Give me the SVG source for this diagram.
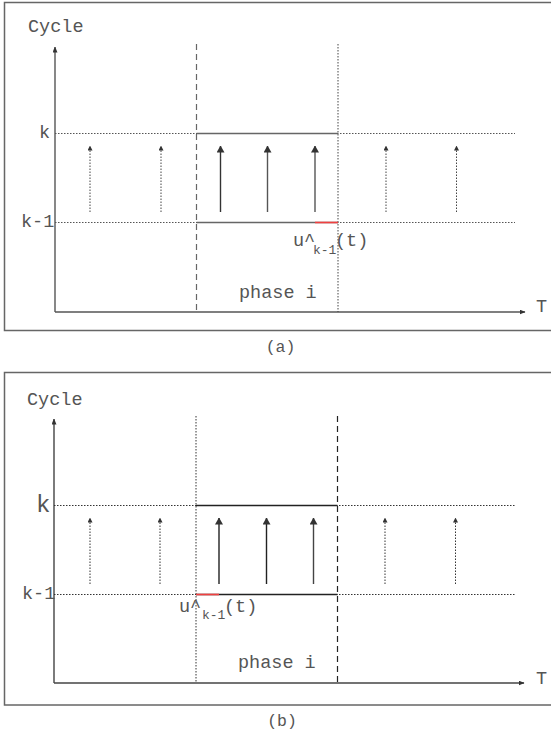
<svg xmlns="http://www.w3.org/2000/svg" width="551" height="736" viewBox="0 0 551 736">
<defs>
<style>
text{font-family:"Liberation Mono","DejaVu Sans Mono",monospace;font-size:18.5px;fill:#555}
.cap{font-size:16.5px}
.sub{font-size:13px}
.frame{fill:none;stroke:#666;stroke-width:1.5}
.dot{stroke-dasharray:1.5 1.5;stroke-width:1;fill:none}
.dash{stroke-dasharray:6 4;stroke-width:1.2;fill:none}
.sol{stroke-width:1.4;fill:none}
.red{stroke:#f04040;stroke-width:1.6}
</style>
<marker id="hbig" viewBox="0 0 7 8" refX="6.5" refY="4" markerWidth="7" markerHeight="8" markerUnits="userSpaceOnUse" orient="auto"><path d="M0,0 L7,4 L0,8 Z" fill="#333"/></marker>
<marker id="hsm" viewBox="0 0 5 5" refX="4.5" refY="2.5" markerWidth="5" markerHeight="5" markerUnits="userSpaceOnUse" orient="auto"><path d="M0,0 L5,2.5 L0,5 Z" fill="#333"/></marker>
<marker id="hax" viewBox="0 0 6 5" refX="5.5" refY="2.5" markerWidth="6" markerHeight="5" markerUnits="userSpaceOnUse" orient="auto"><path d="M0,0 L6,2.5 L0,5 Z" fill="#333"/></marker>
</defs>

<g id="panel-a">
<rect class="frame" x="4.5" y="2.5" width="600" height="328"/>
<text x="28" y="32">Cycle</text>
<g id="a-axes" stroke="#555">
<line x1="55" y1="312" x2="55" y2="47" stroke-width="1.4" marker-end="url(#hax)"/>
<line x1="55" y1="312" x2="525" y2="312" stroke-width="1.4" marker-end="url(#hax)"/>
</g>
<text x="536" y="312">T</text>
<text x="39" y="138">k</text>
<text x="21" y="227">k-1</text>
<g id="a-connectors">
<line class="dash" x1="196.5" y1="44" x2="196.5" y2="312" stroke="#666"/>
<line class="dot" x1="338" y1="44" x2="338" y2="312" stroke="#444"/>
<line class="dot" x1="55" y1="133.5" x2="515" y2="133.5" stroke="#555"/>
<line class="dot" x1="55" y1="222.5" x2="515" y2="222.5" stroke="#555"/>
<line class="sol" x1="196.5" y1="133.5" x2="338" y2="133.5" stroke="#666"/>
<line class="sol" x1="196.5" y1="222.5" x2="338" y2="222.5" stroke="#666"/>
<line class="red" x1="315" y1="222.5" x2="338" y2="222.5"/>
<line class="sol" x1="220.5" y1="212" x2="220.5" y2="146" stroke="#333" marker-end="url(#hbig)"/>
<line class="sol" x1="267.5" y1="212" x2="267.5" y2="146" stroke="#555" marker-end="url(#hbig)"/>
<line class="sol" x1="315" y1="212" x2="315" y2="146" stroke="#555" marker-end="url(#hbig)"/>
<line class="dot" x1="90" y1="212" x2="90" y2="146" stroke="#444" marker-end="url(#hsm)"/>
<line class="dot" x1="161" y1="212" x2="161" y2="146" stroke="#444" marker-end="url(#hsm)"/>
<line class="dot" x1="386" y1="212" x2="386" y2="146" stroke="#444" marker-end="url(#hsm)"/>
<line class="dot" x1="456.5" y1="212" x2="456.5" y2="146" stroke="#444" marker-end="url(#hsm)"/>
</g>
<text x="293" y="246">u^</text>
<text class="sub" x="313" y="254">k-1</text>
<text x="335" y="246">(t)</text>
<text x="239" y="298">phase i</text>
<text class="cap" x="280.5" y="352" text-anchor="middle">(a)</text>
</g>

<g id="panel-b">
<rect class="frame" x="4.5" y="372.5" width="600" height="332.5" stroke="#444"/>
<text x="27" y="405">Cycle</text>
<g id="b-axes" stroke="#444">
<line x1="54" y1="683" x2="54" y2="419" stroke-width="1.4" marker-end="url(#hax)"/>
<line x1="54" y1="683" x2="524" y2="683" stroke-width="1.4" marker-end="url(#hax)"/>
</g>
<text x="536" y="684">T</text>
<text x="36" y="512" style="font-size:24px">k</text>
<text x="22" y="599">k-1</text>
<g id="b-connectors">
<line class="dot" x1="196" y1="416" x2="196" y2="683" stroke="#333"/>
<line class="dash" x1="337.5" y1="416" x2="337.5" y2="683" stroke="#222"/>
<line class="dot" x1="54" y1="505.5" x2="515" y2="505.5" stroke="#333"/>
<line class="dot" x1="54" y1="594.5" x2="515" y2="594.5" stroke="#333"/>
<line class="sol" x1="196" y1="505.5" x2="337.5" y2="505.5" stroke="#222"/>
<line class="sol" x1="196" y1="594.5" x2="337.5" y2="594.5" stroke="#222"/>
<line class="red" x1="196" y1="594.5" x2="219" y2="594.5"/>
<line class="sol" x1="219" y1="584" x2="219" y2="518" stroke="#222" marker-end="url(#hbig)"/>
<line class="sol" x1="266.5" y1="584" x2="266.5" y2="518" stroke="#222" marker-end="url(#hbig)"/>
<line class="sol" x1="313.5" y1="584" x2="313.5" y2="518" stroke="#444" marker-end="url(#hbig)"/>
<line class="dot" x1="90" y1="584" x2="90" y2="518" stroke="#333" marker-end="url(#hsm)"/>
<line class="dot" x1="160" y1="584" x2="160" y2="518" stroke="#333" marker-end="url(#hsm)"/>
<line class="dot" x1="385" y1="584" x2="385" y2="518" stroke="#333" marker-end="url(#hsm)"/>
<line class="dot" x1="455.5" y1="584" x2="455.5" y2="518" stroke="#333" marker-end="url(#hsm)"/>
</g>
<text x="179" y="612">u^</text>
<text class="sub" x="202" y="619">k-1</text>
<text x="224" y="612">(t)</text>
<text x="238" y="668">phase i</text>
<text class="cap" x="282" y="726" text-anchor="middle">(b)</text>
</g>
</svg>
